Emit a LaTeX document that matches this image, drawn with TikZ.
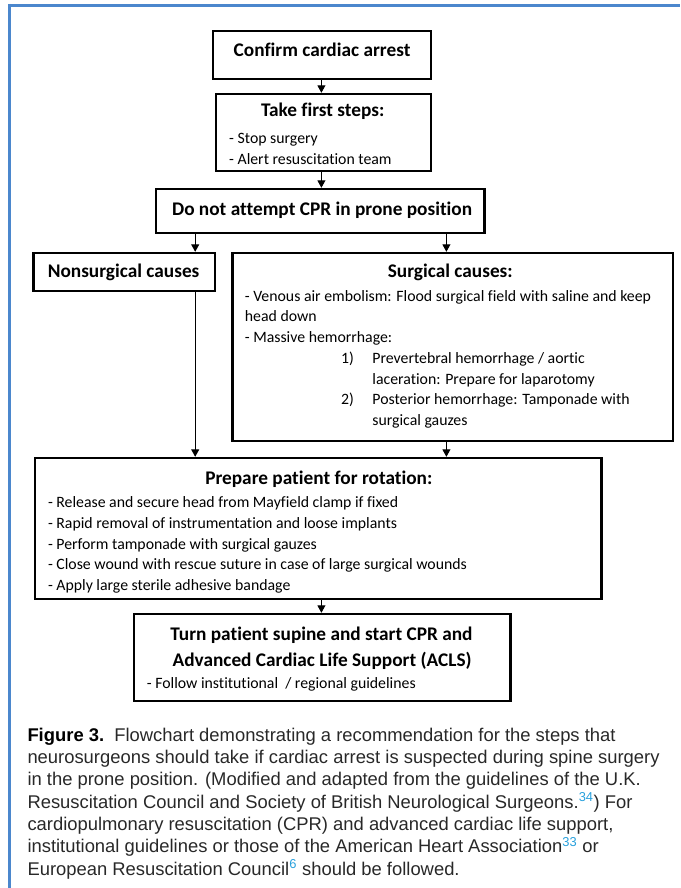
\documentclass[tikz,border=0pt]{standalone}
\usepackage{fontspec}
\setmainfont{Carlito}[Ligatures=NoCommon]
\newfontfamily\capfont{Liberation Sans}
\usetikzlibrary{arrows.meta}
\definecolor{framecol}{RGB}{75,135,205}
\definecolor{refcol}{RGB}{40,160,220}
\definecolor{captext}{RGB}{40,40,40}
\newcommand{\refsup}[1]{\textsuperscript{\textcolor{refcol}{#1}}}
\begin{document}
\begin{tikzpicture}[x=1pt,y=-1pt,
  box/.style={draw, line width=2.4pt, inner sep=0pt},
  arr/.style={line width=1pt, -{Triangle[length=7.5pt,width=8pt]}},
  ttl/.style={font=\fontsize{19.3}{22}\selectfont\bfseries, inner sep=0pt, anchor=base},
  txt/.style={font=\fontsize{15.8}{18}\selectfont, inner sep=0pt, anchor=base west},
  captxt/.style={font=\capfont\fontsize{18.4}{22}\selectfont, text=captext, inner sep=0pt, anchor=base west}]
\useasboundingbox (0,0) rectangle (680,888);
% frame
\draw[framecol, line width=3pt] (9.5,5.5) -- (680,5.5);
\draw[framecol, line width=3pt] (9.5,4) -- (9.5,888);
% boxes
\node[box, minimum width=218pt, minimum height=48pt] (b1) at (322.1,55) {};
\node[box, minimum width=215.4pt, minimum height=77pt] (b2) at (323.4,132.5) {};
\node[box, minimum width=328.5pt, minimum height=44pt] (b3) at (320.1,211) {};
\node[box, minimum width=181.5pt, minimum height=38pt] (b4) at (124.3,272) {};
\node[box, minimum width=440.5pt, minimum height=188pt] (b5) at (452.9,347) {};
\node[box, minimum width=566.7pt, minimum height=141pt] (b6) at (318.2,528.5) {};
\node[box, minimum width=376.7pt, minimum height=87pt] (b7) at (322.1,657.5) {};
% arrow columns
\coordinate (xm) at (321.4,0);
\coordinate (xl) at (195.2,0);
\coordinate (xr) at (446.4,0);
\draw[arr] (b1.south -| xm) -- (b2.north -| xm);
\draw[arr] (b2.south -| xm) -- (b3.north -| xm);
\draw[arr] (b3.south -| xl) -- (b4.north -| xl);
\draw[arr] (b3.south -| xr) -- (b5.north -| xr);
\draw[arr] (b4.south -| xl) -- (b6.north -| xl);
\draw[arr] (b5.south -| xr) -- (b6.north -| xr);
\draw[arr] (b6.south -| xm) -- (b7.north -| xm);
% texts
\node[ttl] (t1) at (322.1,56.5) {Confirm cardiac arrest};
\node[ttl] (t2) at (322.7,117) {Take first steps:};
\node[txt] (t2a) at (229,143) {- Stop surgery};
\node[txt] (t2b) at (229,164) {- Alert resuscitation team};
\node[ttl] (t3) at (322.1,215) {Do not attempt CPR in prone position};
\node[ttl] (t4) at (123.6,277) {Nonsurgical causes};
\node[ttl] (t5) at (450.3,277) {Surgical causes:};
\node[txt] (t5a) at (244.7,301) {- Venous air embolism: Flood surgical field with saline and keep};
\node[txt] (t5b) at (244.7,321.5) {head down};
\node[txt] (t5c) at (244.7,342.2) {- Massive hemorrhage:};
\node[txt] (t5d) at (341,363) {1)};
\node[txt] (t5e) at (372.2,363) {Prevertebral hemorrhage / aortic};
\node[txt] (t5f) at (372.2,384) {laceration: Prepare for laparotomy};
\node[txt] (t5g) at (341,404.7) {2)};
\node[txt] (t5h) at (372.2,404.7) {Posterior hemorrhage: Tamponade with};
\node[txt] (t5i) at (372.2,425.5) {surgical gauzes};
\node[ttl] (t6) at (318.8,484.5) {Prepare patient for rotation:};
\node[txt] (t6a) at (47.8,507.7) {- Release and secure head from Mayfield clamp if fixed};
\node[txt] (t6b) at (47.8,528.3) {- Rapid removal of instrumentation and loose implants};
\node[txt] (t6c) at (47.8,549) {- Perform tamponade with surgical gauzes};
\node[txt] (t6d) at (47.8,569.6) {- Close wound with rescue suture in case of large surgical wounds};
\node[txt] (t6e) at (47.8,590.3) {- Apply large sterile adhesive bandage};
\node[ttl] (t7a) at (321.4,640.7) {Turn patient supine and start CPR and};
\node[ttl] (t7b) at (322.1,666.7) {Advanced Cardiac Life Support (ACLS)};
\node[txt] (t7c) at (146.7,688.5) {- Follow institutional\ \ / regional guidelines};
% caption
\node[captxt] (c1) at (27.3,741) {{\bfseries\color{black}Figure 3.}\ \ Flowchart demonstrating a recommendation for the steps that};
\node[captxt] (c2) at (27.3,763.3) {neurosurgeons should take if cardiac arrest is suspected during spine surgery};
\node[captxt] (c3) at (27.3,785.7) {in the prone position. (Modified and adapted from the guidelines of the U.K.};
\node[captxt] (c4) at (27.3,808) {Resuscitation Council and Society of British Neurological Surgeons.\refsup{34}) For};
\node[captxt] (c5) at (27.3,830.3) {cardiopulmonary resuscitation (CPR) and advanced cardiac life support,};
\node[captxt] (c6) at (27.3,852.7) {institutional guidelines or those of the American Heart Association\refsup{33} or};
\node[captxt] (c7) at (27.3,875) {European Resuscitation Council\refsup{6} should be followed.};
\end{tikzpicture}
\end{document}
